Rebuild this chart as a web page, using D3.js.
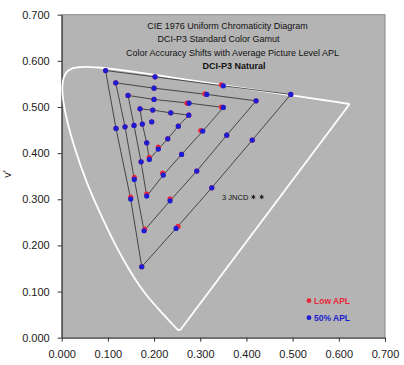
<!DOCTYPE html>
<html>
<head>
<meta charset="utf-8">
<script src="https://cdn.jsdelivr.net/npm/d3@7"></script>
<style>
  html, body { margin: 0; padding: 0; background: #fff; }
  svg { display: block; font-family: "Liberation Sans", Arial, sans-serif; }
</style>
</head>
<body>
<div id="chart"></div>
<script>
// CIE 1976 u'v' chart, DCI-P3 gamut, 41 reference colours at two APL levels

// spectral locus (CIE 1931 2 deg, converted to u'v')
var locusNm = [380, 420, 430, 440, 450, 460, 465, 470, 475, 480, 485, 490, 495, 500, 505, 510, 515,
  520, 525, 530, 535, 540, 545, 550, 560, 570, 580, 590, 600, 610, 620, 630, 640, 700];
var locusU = [0.2568, 0.2522, 0.2461, 0.2347, 0.2161, 0.1877, 0.1690, 0.1441, 0.1147, 0.0828, 0.0521,
  0.0282, 0.0119, 0.0035, 0.0014, 0.0046, 0.0123, 0.0231, 0.0360, 0.0501, 0.0643, 0.0792, 0.0953,
  0.1127, 0.1531, 0.2026, 0.2623, 0.3315, 0.4035, 0.4692, 0.5203, 0.5565, 0.5830, 0.6234];
var locusV = [0.0166, 0.0169, 0.0226, 0.0350, 0.0549, 0.0871, 0.1119, 0.1510, 0.2044, 0.2708, 0.3427,
  0.4117, 0.4698, 0.5131, 0.5432, 0.5638, 0.5770, 0.5837, 0.5861, 0.5868, 0.5865, 0.5856, 0.5841,
  0.5821, 0.5766, 0.5694, 0.5604, 0.5501, 0.5393, 0.5296, 0.5219, 0.5165, 0.5125, 0.5065];

// each ring: G, Y, O, R, R-M, M, M-B, B, B-C, C  (100%, 75%, 50%, 25% saturation)
var ringLevels = ['100%', '75%', '50%', '25%'];
var ring50U = [
  [0.0950, 0.2021, 0.3500, 0.4960, 0.4126, 0.3249, 0.2476, 0.1733, 0.1494, 0.1176],
  [0.1170, 0.1999, 0.3141, 0.4208, 0.3574, 0.2924, 0.2346, 0.1783, 0.1572, 0.1371],
  [0.1436, 0.1999, 0.2757, 0.3500, 0.3054, 0.2595, 0.2200, 0.1841, 0.1718, 0.1566],
  [0.1696, 0.1971, 0.2361, 0.2751, 0.2525, 0.2296, 0.2092, 0.1897, 0.1841, 0.1746]
];
var ring50V = [
  [0.5790, 0.5653, 0.5458, 0.5272, 0.4282, 0.3249, 0.2369, 0.1538, 0.3004, 0.4535],
  [0.5523, 0.5408, 0.5272, 0.5133, 0.4390, 0.3610, 0.2967, 0.2318, 0.3431, 0.4570],
  [0.5250, 0.5164, 0.5083, 0.4990, 0.4477, 0.3972, 0.3524, 0.3069, 0.3812, 0.4600],
  [0.4960, 0.4932, 0.4873, 0.4823, 0.4585, 0.4310, 0.4087, 0.3864, 0.4224, 0.4629]
];
var ringLowU = [
  [0.0950, 0.2021, 0.3457, 0.4960, 0.4126, 0.3249, 0.2519, 0.1733, 0.1494, 0.1176],
  [0.1170, 0.1999, 0.3098, 0.4208, 0.3574, 0.2924, 0.2346, 0.1798, 0.1572, 0.1371],
  [0.1436, 0.1999, 0.2714, 0.3457, 0.3011, 0.2595, 0.2185, 0.1841, 0.1718, 0.1566],
  [0.1696, 0.1971, 0.2361, 0.2751, 0.2525, 0.2296, 0.2092, 0.1897, 0.1841, 0.1746]
];
var ringLowV = [
  [0.5790, 0.5653, 0.5480, 0.5272, 0.4282, 0.3249, 0.2412, 0.1538, 0.3047, 0.4535],
  [0.5523, 0.5408, 0.5285, 0.5133, 0.4390, 0.3610, 0.3010, 0.2355, 0.3474, 0.4570],
  [0.5250, 0.5164, 0.5083, 0.5000, 0.4490, 0.3972, 0.3567, 0.3112, 0.3812, 0.4600],
  [0.4960, 0.4932, 0.4873, 0.4823, 0.4585, 0.4310, 0.4130, 0.3907, 0.4224, 0.4629]
];
var whiteU = 0.1949, whiteV = 0.4678;

var jncdU = [0.415, 0.433];
var jncdV = 0.305;

var tickVals = [0, 0.1, 0.2, 0.3, 0.4, 0.5, 0.6, 0.7];
var titleLines = [
  'CIE 1976 Uniform Chromaticity Diagram',
  'DCI-P3 Standard Color Gamut',
  'Color Accuracy Shifts with Average Picture Level APL',
  'DCI-P3 Natural'
];

(function () {
  'use strict';
  var width = 404, height = 365;
  var RED = '#e8283c', BLUE = '#1c1cd0';

  var x = d3.scaleLinear().domain([0, 0.7]).range([61.7, 385]);
  var y = d3.scaleLinear().domain([0, 0.7]).range([337.7, 14.7]);

  var svg = d3.select('#chart').append('svg')
    .attr('width', width).attr('height', height);

  // plot area
  svg.append('rect')
    .attr('x', x(0)).attr('y', y(0.7))
    .attr('width', x(0.7) - x(0)).attr('height', y(0) - y(0.7))
    .attr('fill', '#b4b4b4').attr('stroke', '#8a8a8a').attr('stroke-width', 1);

  // axes
  var fmt = d3.format('.3f');
  var gx = svg.append('g').attr('transform', 'translate(0,' + y(0) + ')')
    .call(d3.axisBottom(x).tickValues(tickVals).tickFormat(fmt).tickSize(4).tickSizeOuter(0).tickPadding(9));
  var gy = svg.append('g').attr('transform', 'translate(' + x(0) + ',0)')
    .call(d3.axisLeft(y).tickValues(tickVals).tickFormat(fmt).tickSize(4).tickSizeOuter(0).tickPadding(8));
  [gx, gy].forEach(function (g) {
    g.selectAll('text').style('font-size', '11px').attr('fill', '#1a1a1a')
      .style('font-family', '"Liberation Sans", Arial, sans-serif');
    g.selectAll('line').attr('stroke', '#333');
    g.select('.domain').attr('stroke', '#333');
  });

  svg.append('text')
    .attr('transform', 'translate(11,174) rotate(-90)')
    .attr('text-anchor', 'middle')
    .style('font-size', '11px').attr('fill', '#1a1a1a')
    .text("v'");

  // spectral locus
  var locus = locusNm.map(function (nm, i) { return [locusU[i], locusV[i]]; });
  var lineFn = d3.line()
    .x(function (d) { return x(d[0]); })
    .y(function (d) { return y(d[1]); });
  svg.append('path')
    .attr('d', lineFn.curve(d3.curveCatmullRom)(locus))
    .attr('fill', 'none').attr('stroke', '#fff').attr('stroke-width', 1.8);
  svg.append('path')
    .attr('d', lineFn.curve(d3.curveLinear)([locus[locus.length - 1], locus[0]]))
    .attr('fill', 'none').attr('stroke', '#fff').attr('stroke-width', 1.8);

  // ring outlines through the 50% APL points
  ringLevels.forEach(function (lvl, r) {
    var pts = ring50U[r].map(function (u, i) { return [u, ring50V[r][i]]; });
    svg.append('path')
      .attr('d', lineFn.curve(d3.curveLinearClosed)(pts))
      .attr('fill', 'none').attr('stroke', '#2a2a2a').attr('stroke-width', 0.8);
  });

  function drawDots(us, vs, color) {
    var pts = [];
    us.forEach(function (row, r) {
      row.forEach(function (u, i) { pts.push([u, vs[r][i]]); });
    });
    pts.push([whiteU, whiteV]);
    svg.append('g').selectAll('circle').data(pts).enter().append('circle')
      .attr('cx', function (d) { return x(d[0]); })
      .attr('cy', function (d) { return y(d[1]); })
      .attr('r', 2.6)
      .attr('fill', color);
  }
  drawDots(ringLowU, ringLowV, RED);
  drawDots(ring50U, ring50V, BLUE);

  // 3 JNCD scale
  svg.append('text')
    .attr('x', x(jncdU[0]) - 5).attr('y', y(jncdV) + 2.8)
    .attr('text-anchor', 'end')
    .style('font-size', '7.5px').attr('fill', '#111')
    .text('3 JNCD');
  var star = d3.symbol().type(d3.symbolAsterisk || d3.symbolCross).size(14);
  svg.append('g').selectAll('path').data(jncdU).enter().append('path')
    .attr('transform', function (d) { return 'translate(' + x(d) + ',' + y(jncdV) + ')'; })
    .attr('d', star)
    .attr('fill', '#111').attr('stroke', '#111').attr('stroke-width', 0.9);

  // titles
  var titleX = [227.5, 218.5, 232.5, 234];
  var titleY = [29, 42.3, 55.6, 69.3];
  titleLines.forEach(function (t, i) {
    svg.append('text')
      .attr('x', titleX[i]).attr('y', titleY[i])
      .attr('text-anchor', 'middle')
      .style('font-size', '9px')
      .style('font-weight', i === 3 ? 'bold' : 'normal')
      .attr('fill', '#111')
      .text(t);
  });

  // legend
  var legend = [{ label: 'Low APL', color: RED }, { label: '50% APL', color: BLUE }];
  legend.forEach(function (l, i) {
    var ly = 300.7 + i * 17;
    svg.append('circle').attr('cx', 309).attr('cy', ly).attr('r', 2.4).attr('fill', l.color);
    svg.append('text')
      .attr('x', 314).attr('y', ly + 3)
      .style('font-size', '8.5px').style('font-weight', 'bold')
      .attr('fill', l.color)
      .text(l.label);
  });
})();
</script>
</body>
</html>
